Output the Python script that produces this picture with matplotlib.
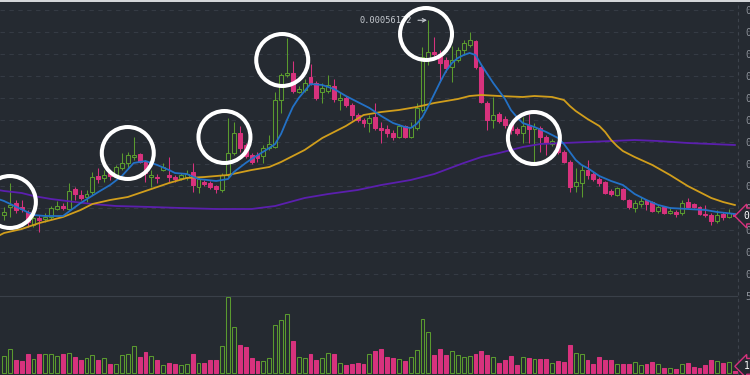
import numpy as np
import matplotlib.pyplot as plt
from matplotlib.patches import Rectangle
from matplotlib.ticker import FuncFormatter

plt.rcParams['font.family'] = ['DejaVu Sans Mono', 'DejaVu Sans']

# candles, prices in micro-BTC (1e-6)
opens = [367, 375, 379, 375, 370, 357, 364, 363, 365, 373,
         376, 373, 393, 387, 385, 390, 406, 404, 409, 407,
         414, 419, 425, 428, 420, 405, 405, 412, 407, 405,
         404, 405, 410, 395, 400, 399, 396, 392, 407, 429,
         449, 437, 427, 427, 426, 434, 435, 482, 507, 509,
         490, 492, 505, 499, 490, 491, 496, 482, 484, 477,
         467, 462, 459, 465, 454, 453, 449, 445, 456, 445,
         454, 472, 523, 530, 528, 522, 515, 522, 532, 537,
         541, 515, 479, 462, 468, 463, 457, 453, 449, 457,
         453, 454, 445, 438, 439, 430, 420, 396, 399, 412,
         408, 403, 400, 391, 387, 393, 382, 374, 378, 382,
         380, 371, 375, 369, 370, 369, 380, 378, 375, 368,
         367, 361, 368, 365, 368]
highs = [375, 399, 382, 382, 372, 367, 367, 369, 376, 381,
         379, 399, 395, 392, 392, 410, 414, 412, 412, 417,
         429, 430, 445, 429, 422, 412, 408, 419, 425, 407,
         409, 412, 419, 405, 402, 401, 397, 409, 464, 460,
         456, 439, 429, 430, 437, 447, 490, 509, 544, 521,
         496, 503, 518, 501, 499, 507, 503, 490, 486, 479,
         469, 464, 467, 479, 460, 457, 452, 458, 457, 460,
         479, 535, 561.72, 545, 532, 525, 536, 535, 542, 550,
         542, 517, 481, 485, 470, 466, 460, 455, 465, 468,
         459, 456, 447, 443, 442, 432, 422, 414, 417, 422,
         410, 405, 401, 393, 395, 394, 383, 382, 385, 383,
         381, 377, 376, 375, 372, 382, 384, 379, 376, 377,
         369, 372, 370, 373, 369]
lows = [362, 365, 369, 370, 355, 355, 350, 360, 363, 372,
        372, 372, 382, 382, 380, 387, 399, 400, 402, 405,
        412, 414, 422, 419, 400, 395, 399, 411, 400, 400,
        402, 402, 390, 389, 396, 393, 389, 390, 405, 427,
        430, 424, 418, 420, 419, 432, 434, 469, 505, 489,
        489, 490, 497, 482, 479, 489, 480, 472, 475, 462,
        460, 455, 450, 452, 439, 445, 442, 444, 444, 444,
        452, 470, 517, 526, 500, 510, 500, 520, 527, 535,
        513, 479, 452, 454, 459, 454, 448, 447, 439, 439,
        420, 430, 427, 436, 428, 419, 390, 390, 385, 403,
        401, 396, 388, 386, 386, 382, 373, 370, 375, 372,
        370, 369, 368, 368, 365, 367, 374, 374, 367, 365,
        357, 359, 362, 364, 365]
closes = [370, 377, 372, 373, 360, 364, 362, 365, 374, 376,
          374, 391, 388, 384, 388, 405, 403, 407, 406, 415,
          419, 427, 427, 420, 409, 407, 404, 415, 405, 403,
          407, 408, 397, 403, 398, 395, 393, 407, 429, 449,
          434, 426, 420, 424, 434, 438, 482, 507, 509, 491,
          493, 499, 499, 484, 494, 497, 483, 484, 477, 467,
          462, 459, 464, 454, 452, 449, 445, 456, 445, 455,
          474, 525, 530, 528, 519, 514, 522, 532, 539, 542,
          515, 480, 462, 467, 461, 457, 452, 449, 456, 453,
          455, 445, 439, 441, 430, 420, 395, 400, 412, 407,
          403, 399, 389, 388, 394, 383, 375, 379, 381, 378,
          371, 375, 369, 371, 368, 379, 375, 375, 368, 367,
          361, 367, 365, 369, 366]
# volume in thousands
volumes = [11.5, 15.5, 8.4, 7.7, 12.8, 9.3, 12.8, 12.8, 12.4, 11.1,
           12.4, 13.1, 10.6, 8.4, 9.7, 11.7, 8.4, 9.7, 6.2, 5.8,
           11.7, 12.8, 17.5, 10.6, 13.9, 11.1, 8.9, 5.1, 6.6, 6.2,
           5.3, 5.8, 12.8, 6.6, 6.6, 8.4, 8.4, 17.9, 49.3, 30.1,
           18.4, 17.3, 10.2, 8.0, 8.0, 10.2, 31.0, 34.3, 38.3, 20.6,
           10.6, 10.2, 12.2, 8.4, 9.7, 13.1, 12.2, 6.6, 5.5, 6.2,
           6.6, 6.2, 12.4, 14.6, 15.9, 10.6, 10.2, 9.3, 8.0, 10.6,
           14.8, 35.4, 27.0, 11.7, 15.9, 11.7, 14.6, 12.0, 10.6, 11.1,
           12.8, 14.6, 11.7, 10.6, 6.6, 8.4, 11.1, 5.5, 10.8, 9.7,
           9.3, 9.3, 9.3, 6.6, 8.0, 7.5, 18.4, 13.1, 12.4, 8.9,
           6.2, 10.6, 8.4, 8.9, 6.2, 6.2, 6.2, 7.1, 5.3, 5.8,
           7.1, 5.8, 3.5, 3.5, 2.9, 5.8, 6.6, 4.2, 3.5, 5.5,
           8.4, 8.0, 6.6, 7.5, 1.2]

# moving averages: candle index -> micro-BTC
ma_fast_idx = [-1, 0, 5, 7, 10, 13, 16, 18, 20, 22, 24, 26, 28, 29, 31, 33, 36, 38, 39,
               41, 42, 45, 46, 47, 48, 49, 50, 52, 54, 56, 58, 60, 62, 64, 66, 68, 69,
               70, 71, 72, 73, 74, 75, 76, 77, 78, 79, 80, 81, 82, 83, 84, 85, 86, 87,
               88, 90, 92, 94, 95, 96, 97, 98, 99, 101, 103, 105, 107, 109, 111, 113,
               116, 119, 121, 124]
ma_fast = [383, 381, 367, 366, 366, 379, 390, 397, 406, 419, 421, 417, 412, 409, 408,
           403, 401, 403, 410, 419, 423, 434, 438, 448, 462, 475, 484, 498, 497, 493,
           486, 480, 474, 466, 459, 455, 454, 458, 465, 476, 488, 500, 511, 519, 524,
           527, 529, 527, 517, 508, 499, 491, 483, 472, 465, 459, 455, 450, 444, 438,
           430, 422, 417, 414, 406, 401, 397, 388, 382, 377, 374, 373, 372, 370, 368]
ma_mid_idx = [-1, 0, 3, 6, 10, 13, 15, 18, 21, 24, 28, 31, 34, 38, 42, 45, 47, 51, 54,
              58, 61, 64, 67, 70, 73, 77, 79, 81, 84, 88, 90, 93, 95, 96, 97, 98, 99,
              101, 102, 103, 104, 105, 107, 110, 113, 116, 118, 120, 122, 124]
ma_mid = [346, 349, 353, 359, 365, 372, 378, 382, 385, 391, 399, 404, 405, 407, 412,
          415, 420, 432, 444, 456, 467, 470, 472, 475, 479, 483, 486, 487, 486, 485,
          486, 485, 482, 476, 471, 467, 463, 456, 450, 442, 436, 431, 425, 417, 407,
          396, 390, 384, 380, 377]
ma_slow_idx = [-1, 0, 3, 5, 8, 12, 15, 19, 25, 30, 36, 42, 46, 51, 55, 60, 64, 69, 73,
               78, 81, 84, 88, 91, 95, 99, 103, 107, 111, 116, 120, 124]
ma_slow = [392, 391, 389, 386, 383, 380, 378, 376, 375, 374, 373, 373, 376, 384, 388,
           392, 397, 402, 408, 419, 425, 429, 435, 438, 439, 440, 441, 442, 441, 439,
           438, 437]

# highlighted spots: candle index, micro-BTC
circle_idx = [1.0, 21.0, 37.4, 47.2, 71.6, 89.9]
circle_val = [380, 429, 445, 522, 548, 444]

price_ticks = [572, 550, 528, 506, 484, 462, 440, 418, 396, 374, 352, 330, 308]
peak_label = '0.00056172'

BG = '#252a31'
GREEN = '#5a9a2f'
PINK = '#d7327d'
GRID = '#353b44'
TXT = '#8d929a'

o = np.array(opens) * 1e-6
h = np.array(highs) * 1e-6
l = np.array(lows) * 1e-6
c = np.array(closes) * 1e-6
v = np.array(volumes)
x = np.arange(len(o))
up = c >= o
cols = np.where(up, GREEN, PINK)
faces = np.where(up, BG, PINK)

fig = plt.figure(figsize=(7.5, 3.75), dpi=100, facecolor=BG)
ax = fig.add_axes([0, 0, 738 / 750, 1])
ax.set_facecolor(BG)
vax = ax.twinx()

# price pane
ax.set_xlim(-0.68, 124.53)
ax.set_ylim(207e-6, 582e-6)
ax.vlines(x, l, h, colors=cols, linewidth=0.75, zorder=2)
ax.bar(x, np.maximum(np.abs(c - o), 0.8e-6), bottom=np.minimum(o, c), width=0.66,
       color=faces, edgecolor=cols, linewidth=0.75, zorder=3)

ax.plot(ma_slow_idx, np.array(ma_slow) * 1e-6, color='#5b1fae', lw=1.3, zorder=4)
ax.plot(ma_mid_idx, np.array(ma_mid) * 1e-6, color='#d19e1c', lw=1.3, zorder=4)
ax.plot(ma_fast_idx, np.array(ma_fast) * 1e-6, color='#2371c6', lw=1.3, zorder=4)

ax.scatter(circle_idx, np.array(circle_val) * 1e-6, s=1400, facecolors='none',
           edgecolors='white', linewidths=2.9, zorder=6)

ax.annotate(peak_label, xy=(72, h[72]), xytext=(-11.5, 0), textcoords='offset points',
            ha='right', va='center', fontsize=6.2, color='#c4c8ce', zorder=5,
            arrowprops=dict(arrowstyle='->', color='#c4c8ce', lw=0.8, shrinkA=2, shrinkB=1))

ax.set_yticks(np.array(price_ticks) * 1e-6)
ax.yaxis.set_major_formatter(FuncFormatter(lambda val, pos: f'{val:.8f}'))
ax.grid(axis='y', color=GRID, linestyle=(0, (4, 4)), linewidth=0.8)
ax.tick_params(axis='y', left=False, labelleft=False, right=True, labelright=True,
               length=0, pad=5, labelsize=7, labelcolor=TXT)
ax.tick_params(axis='x', bottom=False, labelbottom=False)
ax.set_axisbelow(True)
ax.axvline(124.53, color='#3d434c', linestyle=(0, (3, 3)), lw=0.8, clip_on=False)

ax.annotate(f'{c[-1]:.8f}', xy=(1, c[-1]), xycoords=('axes fraction', 'data'),
            xytext=(4, 0), textcoords='offset points', ha='left', va='center',
            fontsize=7, color='white', annotation_clip=False, zorder=10,
            bbox=dict(boxstyle='larrow,pad=0.3', fc=BG, ec=PINK, lw=1))

# volume pane
vax.set_ylim(-1.1, 241.5)
vax.bar(x, v, width=0.66, color=faces, edgecolor=cols, linewidth=0.75)
vax.axhline(50, color='#3a4049', lw=0.8)
vax.set_yticks([50])
vax.set_yticklabels(['50K'])
vax.tick_params(axis='y', length=0, pad=5, labelsize=7, labelcolor=TXT)
vax.annotate(f'{v[-1]:.1f}K', xy=(1, max(v[-1], 4.5)), xycoords=('axes fraction', 'data'),
             xytext=(4, 0), textcoords='offset points', ha='left', va='center',
             fontsize=7, color='white', annotation_clip=False, zorder=10,
             bbox=dict(boxstyle='larrow,pad=0.3', fc=BG, ec=PINK, lw=1))

for a in (ax, vax):
    for s in a.spines.values():
        s.set_visible(False)

fig.add_artist(Rectangle((0, 1 - 1.5 / 375), 1, 1.5 / 375, transform=fig.transFigure,
                         facecolor='#d3d5d8', edgecolor='none'))

fig.savefig('out.png', dpi=100, facecolor=BG)
